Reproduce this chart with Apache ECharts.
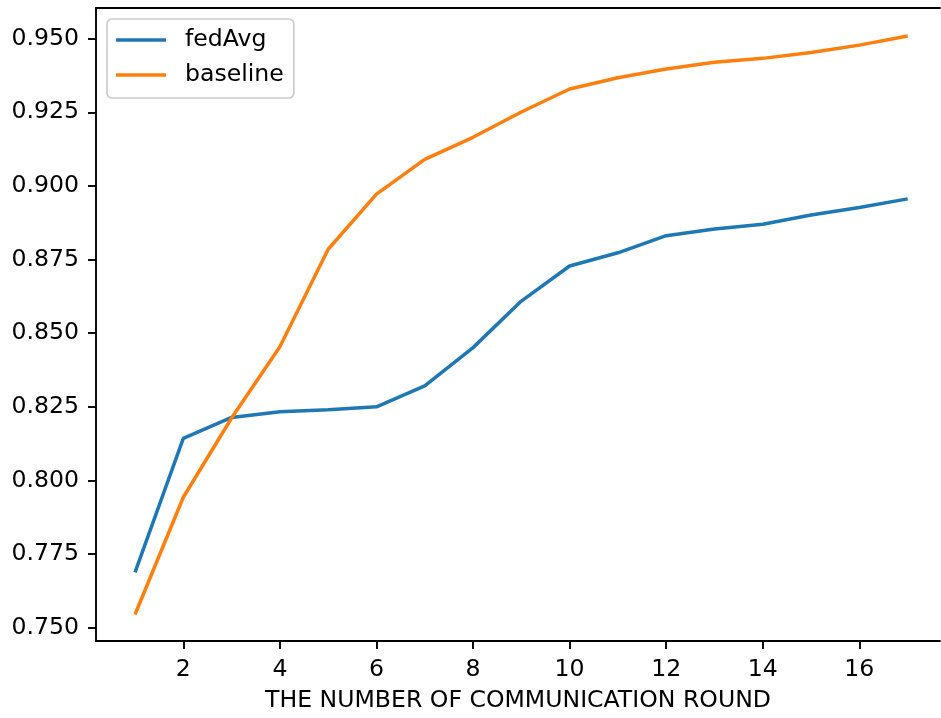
<!DOCTYPE html>
<html>
<head>
<meta charset="utf-8">
<script src="https://cdn.jsdelivr.net/npm/echarts@6/dist/echarts.min.js"></script>
<style>
html,body{margin:0;padding:0;background:#fff;}
#chart{width:941px;height:718px;}
</style>
</head>
<body>
<div id="chart"></div>
<script>
const rounds = [1,2,3,4,5,6,7,8,9,10,11,12,13,14,15,16,17];
const fedAvg = [0.7688,0.8143,0.8214,0.8233,0.8240,0.8250,0.8321,0.8451,0.8609,0.8728,0.8773,0.8831,0.8854,0.8870,0.8901,0.8927,0.8956];
const baseline = [0.7545,0.7943,0.8212,0.8454,0.8785,0.8972,0.9090,0.9165,0.9251,0.9329,0.9367,0.9397,0.9420,0.9433,0.9453,0.9478,0.9509];
const xTicks = [2,4,6,8,10,12,14,16];
const yTicks = [0.750,0.775,0.800,0.825,0.850,0.875,0.900,0.925,0.950];
const xLabel = 'THE NUMBER OF COMMUNICATION ROUND';

const FONT = 'DejaVu Sans';
const FS = 23.6;
const XMIN = 0.192, XMAX = 17.67;
const chart = echarts.init(document.getElementById('chart'), null, {renderer:'canvas'});
const zip = arr => rounds.map((r,i)=>[r,arr[i]]);
chart.setOption({
  animation:false,
  backgroundColor:'#fff',
  grid:{left:96, top:8, right:1, bottom:77, show:false, containLabel:false},
  legend:{
    orient:'vertical', left:107, top:19,
    padding:[9,10,11,9], itemGap:11,
    itemWidth:50, itemHeight:3.5, icon:'rect',
    backgroundColor:'rgba(255,255,255,0.8)', borderColor:'#cccccc', borderWidth:1.7, borderRadius:5,
    textStyle:{fontFamily:FONT, fontSize:FS, color:'#000', padding:[0,0,0,14]},
    data:['fedAvg','baseline']
  },
  xAxis:[{
    type:'value', min:XMIN, max:XMAX, position:'bottom',
    name:xLabel, nameLocation:'middle', nameGap:48,
    nameTextStyle:{fontFamily:FONT, fontSize:FS, color:'#000'},
    axisLine:{show:true, onZero:false, lineStyle:{color:'#000', width:1.9}},
    axisTick:{show:true, inside:false, length:8, customValues:xTicks, lineStyle:{color:'#000', width:1.9}},
    axisLabel:{show:true, margin:17, customValues:xTicks, fontFamily:FONT, fontSize:FS, color:'#000', formatter:v=>String(v)},
    splitLine:{show:false}
  },{
    type:'value', min:XMIN, max:XMAX, position:'top',
    axisLine:{show:true, onZero:false, lineStyle:{color:'#000', width:1.9}},
    axisTick:{show:false}, axisLabel:{show:false}, splitLine:{show:false}
  }],
  yAxis:{
    type:'value', min:0.7455, max:0.9604,
    axisLine:{show:true, onZero:false, lineStyle:{color:'#000', width:1.9}},
    axisTick:{show:true, inside:false, length:8, customValues:yTicks, lineStyle:{color:'#000', width:1.9}},
    axisLabel:{show:true, margin:17, customValues:yTicks, fontFamily:FONT, fontSize:FS, color:'#000', formatter:v=>v.toFixed(3)},
    splitLine:{show:false}
  },
  series:[
    {name:'fedAvg', type:'line', data:zip(fedAvg), showSymbol:false, symbol:'none', color:'#1f77b4', lineStyle:{width:3.5, color:'#1f77b4'}, itemStyle:{color:'#1f77b4'}},
    {name:'baseline', type:'line', data:zip(baseline), showSymbol:false, symbol:'none', color:'#ff7f0e', lineStyle:{width:3.5, color:'#ff7f0e'}, itemStyle:{color:'#ff7f0e'}}
  ]
});
</script>
</body>
</html>
